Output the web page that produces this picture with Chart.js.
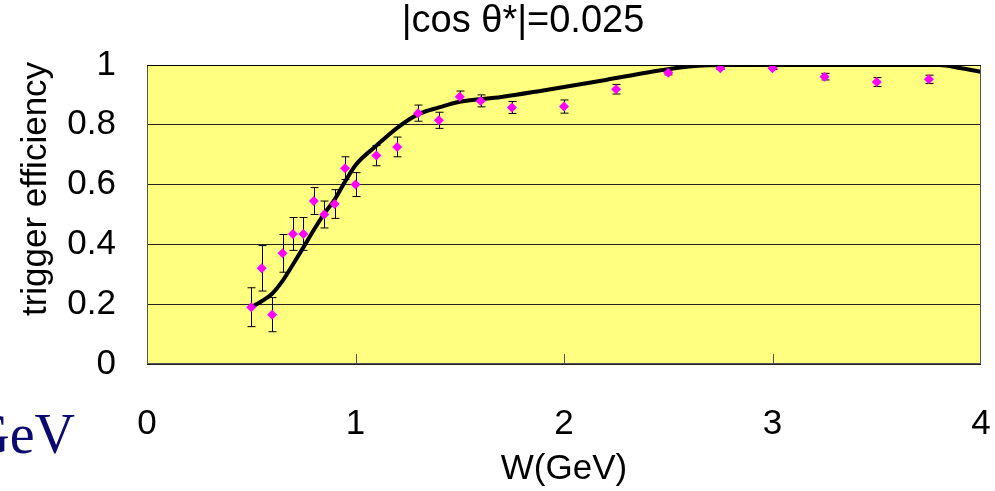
<!DOCTYPE html>
<html>
<head>
<meta charset="utf-8">
<script src="https://cdn.jsdelivr.net/npm/chart.js@4"></script>
<style>
  html, body { margin: 0; padding: 0; background: #fff; }
  #wrap { width: 995px; height: 491px; position: relative; }
</style>
</head>
<body>
<div id="wrap"><canvas id="effChart"></canvas></div>
<script>
// measured points with errors
const wPoints = [0.5, 0.55, 0.6, 0.65, 0.7, 0.75, 0.8, 0.85, 0.9, 0.95, 1.0, 1.1, 1.2, 1.3, 1.4, 1.5, 1.6, 1.75, 2.0, 2.25, 2.5, 2.75, 3.0, 3.25, 3.5, 3.75];
const effPoints = [0.19, 0.32, 0.165, 0.37, 0.435, 0.435, 0.545, 0.5, 0.535, 0.655, 0.6, 0.697, 0.726, 0.839, 0.815, 0.894, 0.88, 0.858, 0.861, 0.919, 0.974, 0.989, 0.989, 0.961, 0.943, 0.952];
const effErrors = [0.065, 0.076, 0.057, 0.063, 0.055, 0.055, 0.045, 0.045, 0.048, 0.038, 0.04, 0.034, 0.033, 0.027, 0.027, 0.019, 0.02, 0.02, 0.022, 0.016, 0.007, 0.004, 0.004, 0.011, 0.015, 0.014];

// simulation curve
const wCurve = [0.5, 0.55, 0.6, 0.65, 0.7, 0.75, 0.8, 0.85, 0.9, 0.95, 1.0, 1.1, 1.2, 1.3, 1.4, 1.5, 1.7, 1.9, 2.2, 2.4, 2.6, 2.8, 3.0, 3.4, 3.8, 3.9, 4.0];
const effCurve = [0.19, 0.21, 0.235, 0.278, 0.333, 0.39, 0.448, 0.503, 0.55, 0.61, 0.665, 0.73, 0.79, 0.835, 0.858, 0.877, 0.893, 0.915, 0.95, 0.975, 0.995, 1.0, 1.0, 1.0, 1.0, 0.99, 0.977];

const xTickLabels = ["0", "1", "2", "3", "4"];
const yTickLabels = ["0", "0.2", "0.4", "0.6", "0.8", "1"];
const chartTitle = "|cos \u03b8*|=0.025";

const FONT = "'Liberation Sans', Arial, sans-serif";

const plotDeco = {
    id: "plotDeco",
    beforeDraw(chart) {
        const { ctx, chartArea: a } = chart;
        ctx.save();
        ctx.fillStyle = "#FFFF80";
        ctx.fillRect(a.left, a.top, a.right - a.left, a.bottom - a.top);
        ctx.restore();
    },
    beforeDatasetDraw(chart, args) {
        if (args.index !== 1) return;
        const { ctx } = chart;
        const xs = chart.scales.x, ys = chart.scales.y;
        ctx.save();
        ctx.strokeStyle = "#000";
        ctx.lineWidth = 1;
        wPoints.forEach((w, i) => {
            const px = Math.round(xs.getPixelForValue(w)) + 0.5;
            const top = ys.getPixelForValue(effPoints[i] + effErrors[i]);
            const bot = ys.getPixelForValue(effPoints[i] - effErrors[i]);
            ctx.beginPath();
            ctx.moveTo(px, top); ctx.lineTo(px, bot);
            ctx.moveTo(px - 4, top); ctx.lineTo(px + 4, top);
            ctx.moveTo(px - 4, bot); ctx.lineTo(px + 4, bot);
            ctx.stroke();
        });
        ctx.restore();
    },
    afterDraw(chart) {
        const { ctx, chartArea: a } = chart;
        const xs = chart.scales.x;
        ctx.save();
        // frame
        ctx.strokeStyle = "#555";
        ctx.lineWidth = 1;
        ctx.strokeRect(a.left + 0.5, a.top + 0.5, a.right - a.left - 1, a.bottom - a.top - 1);
        ctx.strokeStyle = "#000";
        ctx.beginPath();
        ctx.moveTo(a.left, a.top + 0.5); ctx.lineTo(a.right, a.top + 0.5);
        ctx.stroke();
        // inner tick marks on the W axis
        ctx.strokeStyle = "#555";
        [1, 2, 3].forEach(v => {
            const px = Math.round(xs.getPixelForValue(v)) + 0.5;
            ctx.beginPath();
            ctx.moveTo(px, a.bottom); ctx.lineTo(px, a.bottom - 10);
            ctx.stroke();
        });
        ctx.fillStyle = "#000";
        ctx.textAlign = "center";
        ctx.textBaseline = "middle";
        // title, sits a bit left of the plot centre
        ctx.font = "38px " + FONT;
        ctx.fillText(chartTitle, 523, 22);
        // y axis title
        ctx.font = "35px " + FONT;
        ctx.translate(36, 189);
        ctx.rotate(-Math.PI / 2);
        ctx.fillText("trigger efficiency", 0, 0);
        ctx.restore();
        // leftover slide text
        ctx.save();
        ctx.fillStyle = "#0a0a70";
        ctx.font = "56px 'Liberation Serif', 'Times New Roman', serif";
        ctx.textAlign = "right";
        ctx.textBaseline = "alphabetic";
        ctx.fillText("GeV", 75, 453);
        ctx.restore();
    }
};

new Chart(document.getElementById("effChart"), {
    type: "scatter",
    data: {
        datasets: [{
            label: "curve",
            type: "line",
            data: wCurve.map((w, i) => ({ x: w, y: effCurve[i] })),
            borderColor: "#000",
            borderWidth: 4,
            pointRadius: 0,
            fill: false,
            cubicInterpolationMode: "monotone",
            order: 1
        }, {
            label: "data",
            data: wPoints.map((w, i) => ({ x: w, y: effPoints[i] })),
            pointStyle: "rectRot",
            pointRadius: 5,
            pointBackgroundColor: "#FF00FF",
            pointBorderColor: "#FF00FF",
            pointBorderWidth: 0,
            order: 0
        }]
    },
    options: {
        responsive: true,
        maintainAspectRatio: false,
        animation: false,
        layout: { padding: { left: 0, right: 14, top: 65, bottom: 0 } },
        plugins: {
            legend: { display: false },
            tooltip: { enabled: false },
            title: { display: false }
        },
        scales: {
            x: {
                type: "linear",
                min: 0,
                max: 4,
                afterFit(s) { s.height = 127; s.paddingLeft = 0; s.paddingRight = 0; },
                ticks: {
                    stepSize: 1,
                    color: "#000",
                    font: { family: FONT, size: 35 },
                    padding: 39,
                    maxRotation: 0,
                    callback: (v) => xTickLabels[v] ?? ""
                },
                grid: { display: false, drawTicks: false },
                border: { display: false },
                title: {
                    display: true,
                    text: "W(GeV)",
                    color: "#000",
                    font: { family: FONT, size: 35 },
                    padding: { top: 0, bottom: 1 }
                }
            },
            y: {
                min: 0,
                max: 1,
                afterFit(s) { s.width = 147; s.paddingTop = 0; s.paddingBottom = 0; },
                ticks: {
                    stepSize: 0.2,
                    color: "#000",
                    font: { family: FONT, size: 35 },
                    padding: 31,
                    callback: (v) => yTickLabels[Math.round(v * 5)] ?? ""
                },
                grid: { color: "#222", lineWidth: 1, drawTicks: false },
                border: { display: false }
            }
        }
    },
    plugins: [plotDeco]
});
</script>
</body>
</html>
